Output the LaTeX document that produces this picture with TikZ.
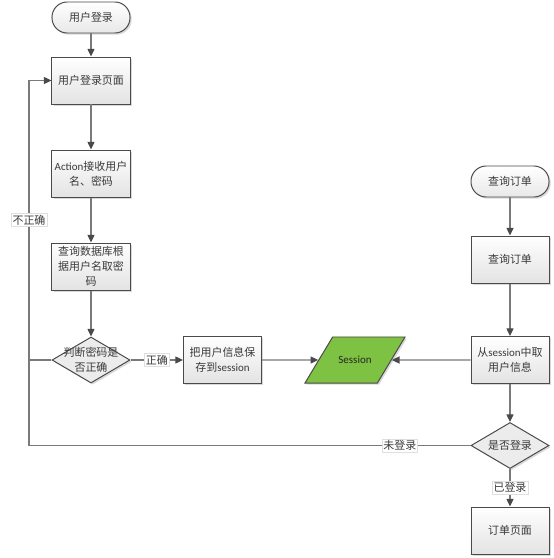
\documentclass[tikz,border=0pt]{standalone}
\usepackage{fontspec}
\usepackage{xcolor}
\usepackage{tikz}
\usetikzlibrary{shapes.geometric,arrows.meta,shadows}

\setmainfont{Carlito}
\newfontfamily\cjk{Noto Sans CJK SC}
\newfontfamily\enfont{Carlito}
\newcommand{\en}[1]{{\enfont #1}}

\definecolor{linegray}{HTML}{7A7A7A}
\definecolor{bordergray}{HTML}{4A4A4A}
\definecolor{textgray}{HTML}{3A3A3A}
\definecolor{sessiongreen}{HTML}{7DC242}

\tikzset{
  txt/.style={text=textgray, font=\cjk\fontsize{7.8}{10.6}\selectfont, align=center},
  base/.style={txt, draw=bordergray, line width=0.7pt, inner sep=0pt,
    drop shadow={shadow xshift=1.2pt, shadow yshift=-1.2pt, opacity=0.3}},
  box/.style={base, rectangle, top color=white, bottom color=gray!22,
    minimum width=1.95cm, minimum height=1.175cm},
  term/.style={base, rectangle, rounded corners=0.38cm, top color=white, bottom color=gray!18,
    minimum width=1.95cm, minimum height=0.775cm},
  decision/.style={base, diamond, fill=gray!15, minimum width=1.95cm, minimum height=1.15cm},
  io/.style={base, trapezium, trapezium left angle=59, trapezium right angle=121,
    trapezium stretches body, fill=sessiongreen, text height=1.15cm, text depth=0pt,
    minimum width=2.5cm},
  flow/.style={draw=linegray, line width=1pt, -{Triangle[length=5.5pt,width=5pt,color=bordergray]}},
  plain/.style={draw=linegray, line width=1pt},
  edgelabel/.style={txt, fill=white, draw=gray!25, line width=0.4pt, inner sep=1pt}
}

\begin{document}
\begin{tikzpicture}[x=0.025cm, y=-0.025cm]
    \useasboundingbox (0,0) rectangle (553,558);

    % Draw login column
    \node[term] (start) at (91,17.5) {用户登录};
    \node[box] (page) at (91,80.5) {用户登录页面};
    \node[box] (action) at (91,173.5) {\en{Action}接收用户\\名、密码};
    \node[box] (query) at (91,266.5) {查询数据库根\\据用户名取密\\码};
    \node[decision] (check) at (91,360) {};
    \node[txt] (checktext) at (check) {判断密码是\\否正确};

    % Draw session row
    \node[box] (save) at (222.5,360) {把用户信息保\\存到\en{session}};
    \node[io] (session) at (355,360) {};
    \node[txt, text=black!85] (sessiontext) at (session) {\en{Session}};

    % Draw order column
    \node[term] (qstart) at (510,181.5) {查询订单};
    \node[box] (qpage) at (510,259.5) {查询订单};
    \node[box] (fetch) at (510,360) {从\en{session}中取\\用户信息};
    \node[decision] (islogin) at (510,445.5) {};
    \node[txt] (islogintext) at (islogin) {是否登录};
    \node[box] (order) at (510,530.5) {订单页面};

    % Draw loop corners
    \coordinate (c1) at (29,360);
    \coordinate (c2) at (29,445.5);

    % Draw connectors
    \draw[flow] (start) -- (page);
    \draw[flow] (page) -- (action);
    \draw[flow] (action) -- (query);
    \draw[flow] (query) -- (check);
    \draw[flow] (check) -- node[edgelabel] {正确} (save);
    \draw[flow] (save) -- (session);
    \draw[flow] (fetch) -- (session);
    \draw[flow] (qstart) -- (qpage);
    \draw[flow] (qpage) -- (fetch);
    \draw[flow] (fetch) -- (islogin);
    \draw[flow] (islogin) -- node[edgelabel] {已登录} (order);
    \draw[flow] (check.west) -- (c1) |- node[edgelabel, pos=0.25] {不正确} (page.west);
    \draw[plain] (islogin.west) -- node[edgelabel, pos=0.16] {未登录} (c2) -- (c1);
\end{tikzpicture}
\end{document}
